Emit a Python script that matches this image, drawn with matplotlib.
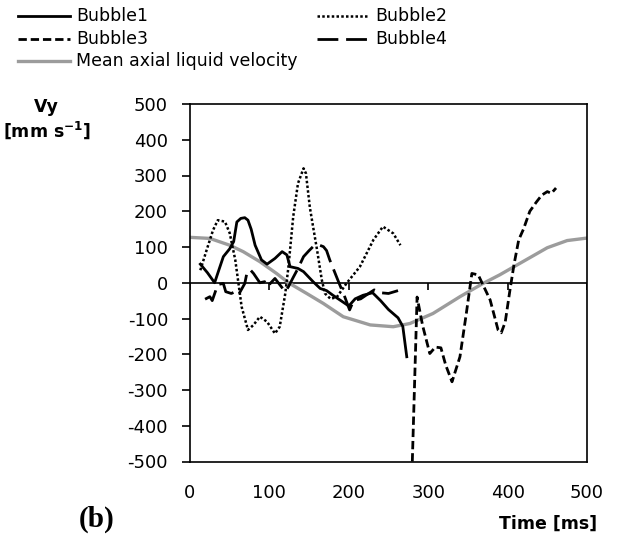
import matplotlib
matplotlib.use("Agg")
import matplotlib.pyplot as plt
from matplotlib.lines import Line2D

plt.rcParams['font.family'] = ['DejaVu Sans']
plt.rcParams['mathtext.fontset'] = 'dejavusans'
plt.rcParams['axes.unicode_minus'] = False

# bubble rise velocities, time in ms, velocity in mm/s
bubble1_t = [13, 22, 31, 37, 42, 50, 55, 59, 64, 69, 73, 77, 82, 90, 97, 107, 116, 122, 126,
             136, 143, 155, 164, 172, 180, 190, 200, 208, 218, 230, 240, 250, 262, 268, 273]
bubble1_v = [52, 28, 0, 40, 73, 95, 115, 170, 180, 182, 175, 150, 105, 64, 52, 68, 87, 78, 45,
             40, 31, 3, -16, -22, -35, -50, -65, -45, -35, -28, -50, -75, -98, -122, -207]

bubble2_t = [13, 21, 29, 35, 44, 50, 57, 61, 65, 73, 80, 88, 97, 107, 113, 120, 124, 130, 136,
             143, 146, 151, 155, 160, 166, 170, 177, 185, 197, 214, 231, 243, 256, 265]
bubble2_v = [35, 92, 147, 175, 171, 139, 64, -1, -67, -132, -118, -95, -109, -142, -123, -30, 45,
             185, 278, 320, 306, 210, 157, 92, 8, -30, -45, -40, -2, 45, 120, 157, 138, 105]

bubble3_t = [280, 286, 293, 302, 309, 316, 322, 330, 340, 348, 355, 363, 378, 388, 392, 397,
             403, 408, 414, 420, 428, 436, 443, 450, 455, 461]
bubble3_v = [-500, -40, -120, -198, -180, -182, -230, -277, -207, -86, 26, 22, -48, -132, -140,
             -110, -20, 50, 120, 150, 200, 225, 245, 255, 250, 265]

bubble4_t = [19, 25, 28, 35, 42, 45, 52, 57, 59, 62, 69, 72, 76, 80, 88, 94, 99, 101, 107, 115,
             120, 124, 130, 136, 143, 150, 155, 162, 168, 172, 176, 187, 195, 201, 206, 215,
             225, 232, 240, 250, 262]
bubble4_v = [-46, -39, -50, -5, -2, -25, -30, -25, -34, -30, -2, 31, 36, 26, 0, 3, -11, -2, 12,
             -11, -25, -11, 15, 40, 73, 90, 101, 106, 101, 90, 64, 3, -40, -76, -50, -45,
             -30, -20, -28, -30, -22]

liquid_t = [0, 25, 50, 67, 88, 109, 124, 147, 168, 193, 227, 256, 277, 306, 340, 369, 390,
            420, 450, 475, 500]
liquid_v = [127, 124, 105, 87, 59, 26, 0, -30, -58, -95, -118, -123, -114, -86, -39, -2, 22,
            60, 98, 118, 125]

x_ticks = [0, 100, 200, 300, 400, 500]
y_ticks = [-500, -400, -300, -200, -100, 0, 100, 200, 300, 400, 500]

W, H = 619, 537
fig = plt.figure(figsize=(W / 100, H / 100), dpi=100)
ax = fig.add_axes([190 / W, 1 - 461.5 / H, 397 / W, 357.5 / H])

styles = [
    ('Bubble1', bubble1_t, bubble1_v, dict(color='black', lw=2.0, ls='-')),
    ('Bubble2', bubble2_t, bubble2_v, dict(color='black', lw=1.8, ls=(0, (1, 0.9)))),
    ('Bubble3', bubble3_t, bubble3_v, dict(color='black', lw=2.0, ls=(0, (3, 1.4)))),
    ('Bubble4', bubble4_t, bubble4_v, dict(color='black', lw=2.0, ls=(0, (7.5, 2.8)))),
    ('Mean axial liquid velocity', liquid_t, liquid_v, dict(color='#9c9c9c', lw=2.4, ls='-')),
]

ax.plot(liquid_t, liquid_v, zorder=2, **styles[4][3])
for name, t, v, st in styles[:4]:
    ax.plot(t, v, zorder=3, **st)

ax.set_xlim(0, 500)
ax.set_ylim(-500, 500)

# zero line with its own tick marks
ax.axhline(0, color='black', lw=1.2, zorder=1)
ax.vlines(x_ticks, -20, 0, color='black', lw=1.2, zorder=1)

for sp in ax.spines.values():
    sp.set_linewidth(1.2)
ax.set_xticks(x_ticks)
ax.set_yticks(y_ticks)
ax.tick_params(axis='x', length=0, pad=16, labelsize=13)
ax.tick_params(axis='y', length=5.8, width=1.2, pad=10, labelsize=13)

# axis titles
fig.text(46 / W, 1 - 107 / H, 'Vy', fontsize=12.5, fontweight='bold', ha='center', va='center')
fig.text(47 / W, 1 - 130 / H, r'[mm s$^{\mathbf{-1}}$]', fontsize=12.5, fontweight='bold',
         ha='center', va='center')
fig.text(597 / W, 1 - 524 / H, 'Time [ms]', fontsize=12.5, fontweight='bold', ha='right',
         va='center')
fig.text(97 / W, 1 - 519 / H, '(b)', fontsize=21, fontweight='bold', family='Liberation Serif',
         ha='center', va='center')

# legend built by hand: two columns, last entry on its own row
legend_pos = [(18, 16), (317, 16), (18, 39), (317, 39), (18, 61)]
for (x, y), (name, _, _, st) in zip(legend_pos, styles):
    fig.add_artist(Line2D([x / W, (x + 52) / W], [1 - y / H, 1 - y / H],
                          transform=fig.transFigure, **st))
    fig.text((x + 58) / W, 1 - y / H, name, fontsize=12.5, ha='left', va='center')

fig.savefig('out.png', dpi=100)
